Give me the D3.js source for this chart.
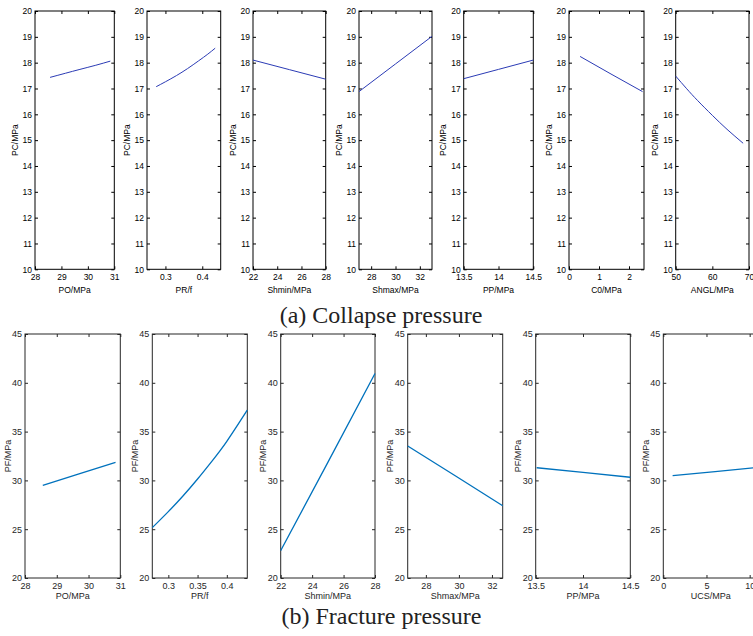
<!DOCTYPE html>
<html>
<head>
<meta charset="utf-8">
<script src="https://cdn.jsdelivr.net/npm/d3@7"></script>
<style>
  body { margin: 0; background: #fff; }
</style>
</head>
<body>
<div id="chart"></div>
<script>

// (a) collapse pressure PC/MPa vs each parameter
var pcYTicks = [10, 11, 12, 13, 14, 15, 16, 17, 18, 19, 20];

var pcPoX = [28.57, 29.15, 29.7, 30.3, 30.85];
var pcPoY = [17.43, 17.59, 17.74, 17.9, 18.06];

var pcPrX = [0.275, 0.3, 0.33, 0.36, 0.39, 0.415, 0.435];
var pcPrY = [17.07, 17.26, 17.5, 17.77, 18.07, 18.33, 18.56];

var pcShminX = [22, 25, 28];
var pcShminY = [18.1, 17.73, 17.36];

var pcShmaxX = [27, 30, 33];
var pcShmaxY = [16.88, 17.95, 19.02];

var pcPpX = [13.5, 14, 14.5];
var pcPpY = [17.38, 17.74, 18.1];

var pcC0X = [0.37, 1.4, 2.45];
var pcC0Y = [18.24, 17.56, 16.88];

var pcAnglX = [50, 53, 56, 60, 64, 68.4];
var pcAnglY = [17.48, 16.99, 16.53, 15.96, 15.42, 14.88];

// (b) fracture pressure PF/MPa vs each parameter
var pfYTicks = [20, 25, 30, 35, 40, 45];

var pfPoX = [28.56, 29.7, 30.85];
var pfPoY = [29.5, 30.68, 31.85];

var pfPrX = [0.2726, 0.3, 0.325, 0.35, 0.375, 0.4, 0.435];
var pfPrY = [25.16, 26.8, 28.4, 30.14, 32.0, 34.0, 37.2];

var pfShminX = [22, 25, 28];
var pfShminY = [22.8, 31.85, 40.95];

var pfShmaxX = [26.9, 29.8, 32.65];
var pfShmaxY = [33.52, 30.45, 27.4];

var pfPpX = [13.51, 14, 14.5];
var pfPpY = [31.3, 30.82, 30.32];

var pfUcsX = [1.08, 6, 10.9];
var pfUcsY = [30.48, 30.9, 31.32];

var svg = d3.select('#chart')
    .append('svg')
    .attr('width', 753)
    .attr('height', 636);

// styles for the two rows (old and new matlab look)
var topStyle = {
    top: 11, bottom: 269.3, ink: '#000', line: '#2b3bb5', lineWidth: 1,
    font: 8.5, yLabelOff: 17.5, xPad: 5, yPad: 3, xLabelY: 293, yDomain: [10, 20], yTicks: pcYTicks
};
var botStyle = {
    top: 334, bottom: 578, ink: '#262626', line: '#0072BD', lineWidth: 1.3,
    font: 9, yLabelOff: 14.5, xPad: 5, yPad: 3, xLabelY: 599, yDomain: [20, 45], yTicks: pfYTicks
};

var panels = [
    // top row
    { s: topStyle, left: 35, right: 114.3, xd: [28, 31], xt: [28, 29, 30, 31], xs: pcPoX, ys: pcPoY, xl: 'PO/MPa', yl: 'PC/MPa' },
    { s: topStyle, left: 147, right: 220.7, xd: [0.25, 0.45], xt: [0.3, 0.4], xs: pcPrX, ys: pcPrY, xl: 'PR/f', yl: 'PC/MPa' },
    { s: topStyle, left: 253, right: 325.7, xd: [22, 28], xt: [22, 24, 26, 28], xs: pcShminX, ys: pcShminY, xl: 'Shmin/MPa', yl: 'PC/MPa' },
    { s: topStyle, left: 359, right: 432, xd: [27, 33], xt: [28, 30, 32], xs: pcShmaxX, ys: pcShmaxY, xl: 'Shmax/MPa', yl: 'PC/MPa' },
    { s: topStyle, left: 463.7, right: 533.3, xd: [13.5, 14.5], xt: [13.5, 14, 14.5], xs: pcPpX, ys: pcPpY, xl: 'PP/MPa', yl: 'PC/MPa' },
    { s: topStyle, left: 569, right: 644, xd: [0, 2.5], xt: [0, 1, 2], xs: pcC0X, ys: pcC0Y, xl: 'C0/MPa', yl: 'PC/MPa' },
    { s: topStyle, left: 675.7, right: 749, xd: [50, 70], xt: [50, 60, 70], xs: pcAnglX, ys: pcAnglY, xl: 'ANGL/MPa', yl: 'PC/MPa' },
    // bottom row
    { s: botStyle, left: 25, right: 120.3, xd: [28, 31], xt: [28, 29, 30, 31], xs: pfPoX, ys: pfPoY, xl: 'PO/MPa', yl: 'PF/MPa' },
    { s: botStyle, left: 152.3, right: 247.3, xd: [0.2726, 0.435], xt: [0.3, 0.35, 0.4], xs: pfPrX, ys: pfPrY, xl: 'PR/f', yl: 'PF/MPa' },
    { s: botStyle, left: 280.7, right: 375, xd: [22, 28], xt: [22, 24, 26, 28], xs: pfShminX, ys: pfShminY, xl: 'Shmin/MPa', yl: 'PF/MPa' },
    { s: botStyle, left: 407.7, right: 502.7, xd: [26.9, 32.65], xt: [28, 30, 32], xs: pfShmaxX, ys: pfShmaxY, xl: 'Shmax/MPa', yl: 'PF/MPa' },
    { s: botStyle, left: 535.7, right: 630.3, xd: [13.5, 14.5], xt: [13.5, 14, 14.5], xs: pfPpX, ys: pfPpY, xl: 'PP/MPa', yl: 'PF/MPa' },
    { s: botStyle, left: 663.3, right: 758.3, xd: [0, 11], xt: [0, 5, 10], xs: pfUcsX, ys: pfUcsY, xl: 'UCS/MPa', yl: 'PF/MPa' }
];

function styleAxis(g, s) {
    g.attr('font-size', s.font)
        .attr('font-family', 'Liberation Sans, Arial, sans-serif')
        .attr('color', s.ink);
    g.select('.domain').remove();
}

panels.forEach(function (p) {
    var s = p.s;

    var x = d3.scaleLinear()
        .domain(p.xd)
        .range([p.left, p.right]);

    var y = d3.scaleLinear()
        .domain(s.yDomain)
        .range([s.bottom, s.top]);

    // bottom ticks + labels
    svg.append('g')
        .attr('transform', 'translate(0,' + s.bottom + ')')
        .call(d3.axisBottom(x).tickValues(p.xt).tickFormat(function (d) { return d; })
            .tickSizeInner(-3).tickSizeOuter(0).tickPadding(s.xPad))
        .call(styleAxis, s);

    // top mirror ticks
    svg.append('g')
        .attr('transform', 'translate(0,' + s.top + ')')
        .call(d3.axisTop(x).tickValues(p.xt).tickFormat('')
            .tickSizeInner(-3).tickSizeOuter(0))
        .call(styleAxis, s);

    // left ticks + labels
    svg.append('g')
        .attr('transform', 'translate(' + p.left + ',0)')
        .call(d3.axisLeft(y).tickValues(s.yTicks)
            .tickSizeInner(-3).tickSizeOuter(0).tickPadding(s.yPad))
        .call(styleAxis, s);

    // right mirror ticks
    svg.append('g')
        .attr('transform', 'translate(' + p.right + ',0)')
        .call(d3.axisRight(y).tickValues(s.yTicks).tickFormat('')
            .tickSizeInner(-3).tickSizeOuter(0))
        .call(styleAxis, s);

    // box
    svg.append('rect')
        .attr('x', p.left)
        .attr('y', s.top)
        .attr('width', p.right - p.left)
        .attr('height', s.bottom - s.top)
        .attr('fill', 'none')
        .attr('stroke', s.ink)
        .attr('stroke-width', 1);

    // data line
    var line = d3.line()
        .x(function (d) { return x(d[0]); })
        .y(function (d) { return y(d[1]); })
        .curve(d3.curveNatural);

    svg.append('path')
        .datum(d3.zip(p.xs, p.ys))
        .attr('d', line)
        .attr('fill', 'none')
        .attr('stroke', s.line)
        .attr('stroke-width', s.lineWidth);

    // x label
    svg.append('text')
        .attr('x', (p.left + p.right) / 2)
        .attr('y', s.xLabelY)
        .attr('text-anchor', 'middle')
        .attr('font-family', 'Liberation Sans, Arial, sans-serif')
        .attr('font-size', s.font)
        .attr('fill', s.ink)
        .text(p.xl);

    // y label
    var cy = (s.top + s.bottom) / 2;
    var lx = p.left - s.yLabelOff;
    svg.append('text')
        .attr('transform', 'translate(' + lx + ',' + cy + ') rotate(-90)')
        .attr('text-anchor', 'middle')
        .attr('font-family', 'Liberation Sans, Arial, sans-serif')
        .attr('font-size', s.font)
        .attr('fill', s.ink)
        .text(p.yl);
});

// row captions
svg.append('text')
    .attr('x', 381)
    .attr('y', 323)
    .attr('text-anchor', 'middle')
    .attr('font-family', 'Liberation Serif, Times New Roman, serif')
    .attr('font-size', 24)
    .attr('fill', '#222')
    .text('(a) Collapse pressure');

svg.append('text')
    .attr('x', 381.5)
    .attr('y', 624)
    .attr('text-anchor', 'middle')
    .attr('font-family', 'Liberation Serif, Times New Roman, serif')
    .attr('font-size', 24)
    .attr('fill', '#222')
    .text('(b) Fracture pressure');

</script>
</body>
</html>
